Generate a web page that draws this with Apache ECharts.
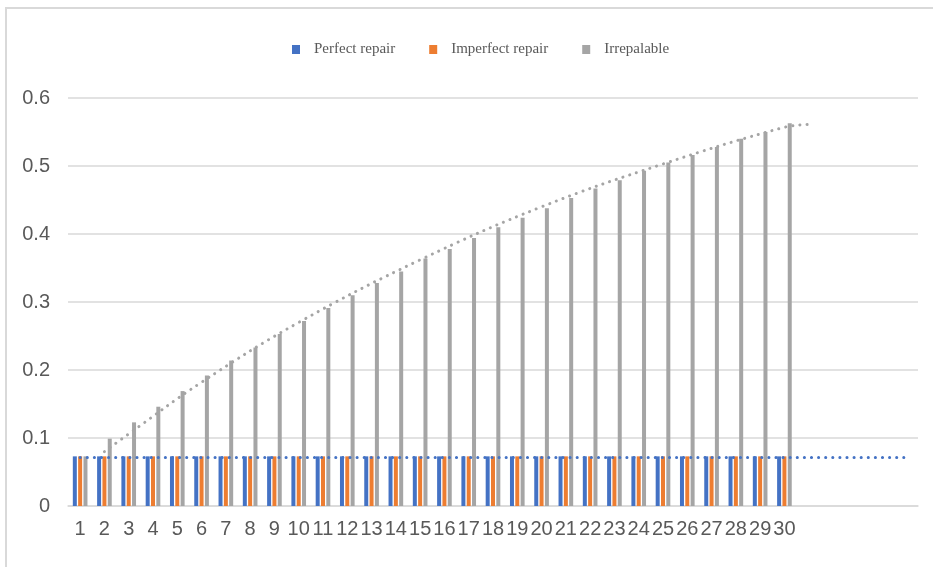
<!DOCTYPE html>
<html>
<head>
<meta charset="utf-8">
<script src="https://cdn.jsdelivr.net/npm/echarts@6/dist/echarts.min.js"></script>
<style>
  html, body { margin: 0; padding: 0; background: #ffffff; }
  #chart { width: 933px; height: 567px; }
</style>
</head>
<body>
<div id="chart"></div>
<script>
// Periods 1..30, plus five empty slots for the trend forecast
const categories = ['1','2','3','4','5','6','7','8','9','10','11','12','13','14','15',
  '16','17','18','19','20','21','22','23','24','25','26','27','28','29','30',
  '','','','',''];

const perfectRepair = [0.073,0.073,0.073,0.073,0.073,0.073,0.073,0.073,0.073,0.073,
  0.073,0.073,0.073,0.073,0.073,0.073,0.073,0.073,0.073,0.073,
  0.073,0.073,0.073,0.073,0.073,0.073,0.073,0.073,0.073,0.073];

const imperfectRepair = [0.073,0.073,0.073,0.073,0.073,0.073,0.073,0.073,0.073,0.073,
  0.073,0.073,0.073,0.073,0.073,0.073,0.073,0.073,0.073,0.073,
  0.073,0.073,0.073,0.073,0.073,0.073,0.073,0.073,0.073,0.073];

const irreparable = [0.073,0.099,0.123,0.146,0.169,0.192,0.214,0.233,0.253,0.272,
  0.291,0.310,0.328,0.345,0.364,0.378,0.394,0.410,0.424,0.438,
  0.453,0.467,0.479,0.493,0.505,0.516,0.528,0.540,0.550,0.563];

// Trend line of the repair series (flat), drawn across all 35 slots
const repairTrend = [0.0715, null, null, null, null, null, null, null, null, null,
  null, null, null, null, null, null, null, null, null, null,
  null, null, null, null, null, null, null, null, null, null,
  null, null, null, null, 0.0715];

// Trend line of the irreparable series, read at a few periods
const irreparableTrend = [null, 0.080, 0.106, null, null, 0.182, null, null, null, 0.270,
  null, null, null, null, 0.362, null, null, null, null, 0.440,
  null, null, null, null, 0.503, null, null, null, null, 0.557,
  0.561, null, null, null, null];

const legendNames = ['Perfect repair', 'Imperfect repair', 'Irrepalable'];
const colors = ['#4472C4', '#ED7D31', '#A5A5A5'];

const chart = echarts.init(document.getElementById('chart'), null, { renderer: 'canvas' });

const barStyle = { barWidth: 4, barGap: '33%' };

chart.setOption({
  backgroundColor: '#ffffff',
  animation: false,
  color: colors,
  graphic: [{
    type: 'rect',
    shape: { x: 6, y: 8, width: 1000, height: 1000 },
    style: { fill: 'none', stroke: '#d9d9d9', lineWidth: 2 },
    silent: true
  }],
  legend: {
    data: legendNames,
    top: 37,
    left: 287,
    itemWidth: 8,
    itemHeight: 9,
    itemGap: 34,
    icon: 'rect',
    textStyle: {
      fontFamily: 'Liberation Serif',
      fontSize: 15,
      color: '#595959',
      padding: [0, 0, 0, 9]
    }
  },
  grid: { left: 68, right: 15, top: 98, bottom: 61, containLabel: false },
  xAxis: {
    type: 'category',
    data: categories,
    axisLine: { show: true, lineStyle: { color: '#d9d9d9', width: 1.5 } },
    axisTick: { show: false },
    axisLabel: {
      interval: 0,
      margin: 13,
      fontFamily: 'Liberation Sans',
      fontSize: 20,
      color: '#595959'
    }
  },
  yAxis: {
    type: 'value',
    min: 0,
    max: 0.6,
    interval: 0.1,
    axisLine: { show: false },
    axisTick: { show: false },
    axisLabel: {
      margin: 18,
      fontFamily: 'Liberation Sans',
      fontSize: 20,
      color: '#595959',
      formatter: v => String(Math.round(v * 10) / 10)
    },
    splitLine: { lineStyle: { color: '#d9d9d9', width: 1.5 } }
  },
  series: [
    { name: legendNames[0], type: 'bar', data: perfectRepair, itemStyle: { color: colors[0] }, ...barStyle },
    { name: legendNames[1], type: 'bar', data: imperfectRepair, itemStyle: { color: colors[1] }, ...barStyle },
    { name: legendNames[2], type: 'bar', data: irreparable, itemStyle: { color: colors[2] }, ...barStyle },
    {
      name: 'repairTrend', type: 'line', data: repairTrend, connectNulls: true,
      symbol: 'none', z: 5,
      lineStyle: { color: '#4472C4', width: 3, type: [0.1, 7], cap: 'round' }
    },
    {
      name: 'irreparableTrend', type: 'line', data: irreparableTrend, connectNulls: true,
      smooth: 0.4, symbol: 'none', z: 5,
      lineStyle: { color: '#A5A5A5', width: 3, type: [0.1, 7], cap: 'round' }
    }
  ]
});
</script>
</body>
</html>
